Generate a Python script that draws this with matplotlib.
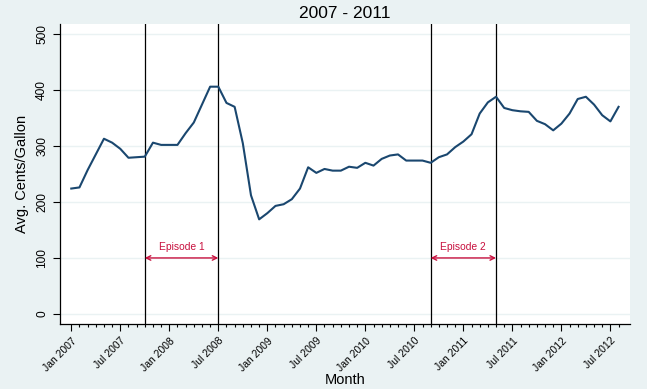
import matplotlib
matplotlib.use("Agg")
import matplotlib.pyplot as plt
import numpy as np

plt.rcParams['font.family'] = ['Liberation Sans', 'DejaVu Sans']

# monthly average price, Jan 2007 .. Aug 2012
price = [224, 226, 257, 285, 313, 306, 295, 279, 280, 281, 306, 302,
         302, 302, 323, 342, 374, 406, 406, 377, 370, 305, 212, 169,
         180, 193, 196, 205, 224, 262, 252, 259, 256, 256, 263, 261,
         270, 265, 277, 283, 285, 274, 274, 274, 270, 280, 285, 298,
         308, 321, 358, 378, 388, 368, 364, 362, 361, 345, 339, 328,
         340, 358, 384, 388, 374, 355, 344, 370]
months = np.arange(len(price))  # 0 = Jan 2007

tick_pos = [0, 6, 12, 18, 24, 30, 36, 42, 48, 54, 60, 66]
tick_lab = ['Jan 2007', 'Jul 2007', 'Jan 2008', 'Jul 2008', 'Jan 2009', 'Jul 2009',
            'Jan 2010', 'Jul 2010', 'Jan 2011', 'Jul 2011', 'Jan 2012', 'Jul 2012']

vlines = [9, 18, 44, 52]          # Oct 2007, Jul 2008, Sep 2010, May 2011
episodes = [('Episode 1', 9, 18), ('Episode 2', 44, 52)]
ep_y = 100

bg = '#EAF2F3'
navy = '#1A476F'
red = '#C8103E'

fig = plt.figure(figsize=(6.47, 3.89), dpi=100, facecolor=bg)
ax = fig.add_axes([60/647, 1-324/389, 570/647, 300/389])
ax.set_facecolor('white')

ax.plot(months, price, color=navy, lw=1.5, zorder=3)
for v in vlines:
    ax.axvline(v, color='black', lw=0.9, zorder=2)

for name, a, b in episodes:
    ax.annotate('', xy=(a, ep_y), xytext=(b, ep_y),
                arrowprops=dict(arrowstyle='<->', color=red, lw=1.0,
                                shrinkA=0, shrinkB=0, mutation_scale=8))
    ax.text((a + b) / 2, ep_y + 11, name, color=red, fontsize=7.4,
            ha='center', va='bottom')

ax.set_xlim(-1.38, 68.4)
ax.set_ylim(-18, 518)
ax.set_yticks([0, 100, 200, 300, 400, 500])
ax.set_yticklabels(['0', '100', '200', '300', '400', '500'], rotation=90,
                   va='center', fontsize=8.6)
ax.grid(axis='y', color=bg, lw=1)
ax.set_axisbelow(True)

ax.set_xticks(tick_pos)
ax.set_xticklabels(tick_lab, rotation=45, ha='right', rotation_mode='anchor',
                   fontsize=7.5)
ax.set_xticks(months, minor=True)
ax.tick_params(axis='x', which='major', length=5, width=0.8)
ax.tick_params(axis='x', which='minor', length=2.5, width=0.8)
ax.tick_params(axis='y', length=5, width=0.8)

for s in ['top', 'right']:
    ax.spines[s].set_visible(False)
for s in ['left', 'bottom']:
    ax.spines[s].set_linewidth(0.9)

ax.set_title('2007 - 2011', fontsize=12.5, pad=4)
ax.set_xlabel('Month', fontsize=10.5, labelpad=0)
ax.set_ylabel('Avg. Cents/Gallon', fontsize=10.5, labelpad=5)

fig.savefig('out.png', dpi=100, facecolor=bg)
